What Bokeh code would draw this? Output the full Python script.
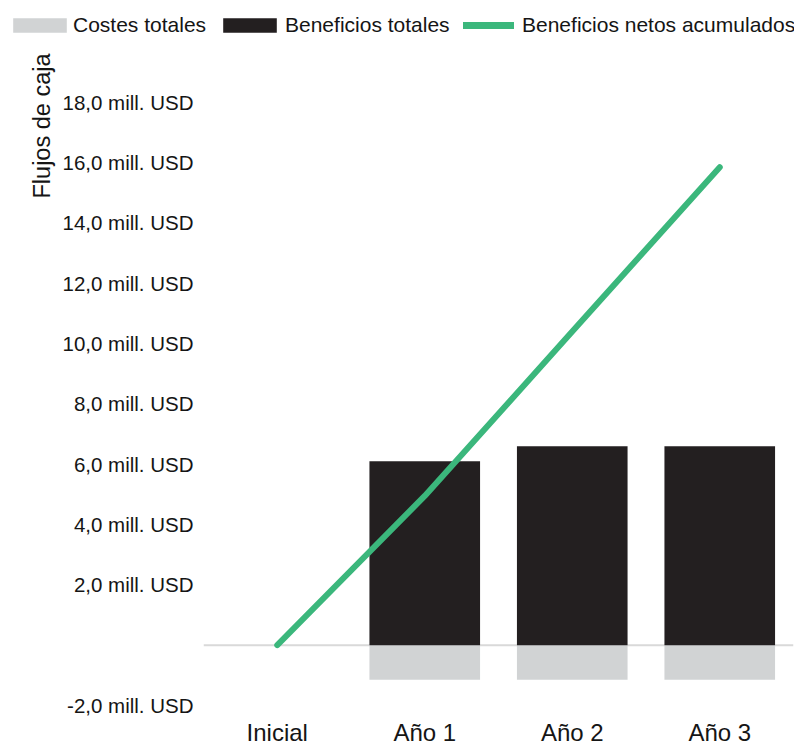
from bokeh.plotting import figure
from bokeh.models import (FactorRange, Range1d, FixedTicker, Span, Legend,
                          LegendItem, Title, ColumnDataSource)
from bokeh.embed import file_html
from bokeh.resources import INLINE

# ---- data ----
categories = ["Inicial", "Año 1", "Año 2", "Año 3"]
costes_totales = [0.0, -1.15, -1.15, -1.15]
beneficios_totales = [0.0, 6.1, 6.6, 6.6]
beneficios_netos_acumulados = [0.0, 4.95, 10.4, 15.85]
y_ticks = [-2, 0, 2, 4, 6, 8, 10, 12, 14, 16, 18]
y_tick_labels = ["-2,0 mill. USD", "", "2,0 mill. USD", "4,0 mill. USD",
                 "6,0 mill. USD", "8,0 mill. USD", "10,0 mill. USD",
                 "12,0 mill. USD", "14,0 mill. USD", "16,0 mill. USD",
                 "18,0 mill. USD"]
legend_labels = ["Costes totales", "Beneficios totales", "Beneficios netos acumulados"]
y_title = "Flujos de caja"

FONT = "Liberation Sans"
TXT = "#151515"
GRAY = "#d1d3d4"
BLACK = "#231f20"
GREEN = "#3bb77c"

source = ColumnDataSource(dict(cat=categories, cost=costes_totales,
                               ben=beneficios_totales,
                               net=beneficios_netos_acumulados))

# ---------------- main chart ----------------
p = figure(width=794, height=703, output_backend="svg", toolbar_location=None,
           x_range=FactorRange(*categories, range_padding=0),
           y_range=Range1d(-2.0, 19.72),
           min_border_left=203, min_border_right=1, min_border_top=5,
           min_border_bottom=41)
p.outline_line_color = None
p.xgrid.visible = False
p.ygrid.visible = False

zero = Span(location=0, dimension="width", line_color="#d9d9d9", line_width=2,
            level="underlay")
p.add_layout(zero)

r_cost = p.vbar(x="cat", top="cost", width=0.75, source=source,
                fill_color=GRAY, line_color=None)
r_ben = p.vbar(x="cat", top="ben", width=0.75, source=source,
               fill_color=BLACK, line_color=None)
r_net = p.line(x="cat", y="net", source=source, line_color=GREEN, line_width=6,
               line_cap="round", line_join="round")

p.yaxis.ticker = FixedTicker(ticks=y_ticks)
p.yaxis.major_label_overrides = {t: l for t, l in zip(y_ticks, y_tick_labels)}
for ax in (p.xaxis, p.yaxis):
    ax.axis_line_color = None
    ax.major_tick_line_color = None
    ax.minor_tick_line_color = None
    ax.major_tick_out = 0
    ax.major_tick_in = 0
    ax.major_label_text_font = FONT
    ax.major_label_text_color = TXT
p.yaxis.major_label_text_font_size = "20.5px"
p.yaxis.major_label_standoff = 10
p.xaxis.major_label_text_font_size = "24px"
p.xaxis.major_label_standoff = 13

p.add_layout(Title(text=y_title, align="right", text_font=FONT,
                   text_font_size="23.5px", text_font_style="normal",
                   text_color=TXT, offset=3), "left")

# ---------------- legend strip (separate root, full-width frame) ----------------
leg = figure(width=794, height=45, output_backend="svg", toolbar_location=None,
             x_range=Range1d(0, 1), y_range=Range1d(0, 1),
             x_axis_type=None, y_axis_type=None, min_border=0)
leg.outline_line_color = None
leg.xgrid.visible = False
leg.ygrid.visible = False
# off-range proxies, only used to draw the legend swatches
proxy = ColumnDataSource(dict(x=[5, 6], y=[5, 5]))
g_cost = leg.vbar(x="x", top="y", width=0.1, source=proxy, fill_color=GRAY,
                  line_color=None)
g_ben = leg.vbar(x="x", top="y", width=0.1, source=proxy, fill_color=BLACK,
                 line_color=None)
g_net = leg.line(x="x", y="y", source=proxy, line_color=GREEN, line_width=7,
                 line_cap="round")

common = dict(orientation="horizontal", padding=0, margin=0,
              background_fill_alpha=0, border_line_alpha=0,
              label_text_font=FONT, label_text_font_size="21px",
              label_text_color=TXT, glyph_height=18, label_height=18)
leg.add_layout(Legend(items=[LegendItem(label=legend_labels[0], renderers=[g_cost])],
                      location=(6, 8), glyph_width=67, label_standoff=0, **common))
leg.add_layout(Legend(items=[LegendItem(label=legend_labels[1], renderers=[g_ben])],
                      location=(216, 8), glyph_width=67, label_standoff=2, **common))
leg.add_layout(Legend(items=[LegendItem(label=legend_labels[2], renderers=[g_net])],
                      location=(463, 8), glyph_width=51, label_standoff=8, **common))

open("out.html", "w").write(file_html([leg, p], INLINE))
